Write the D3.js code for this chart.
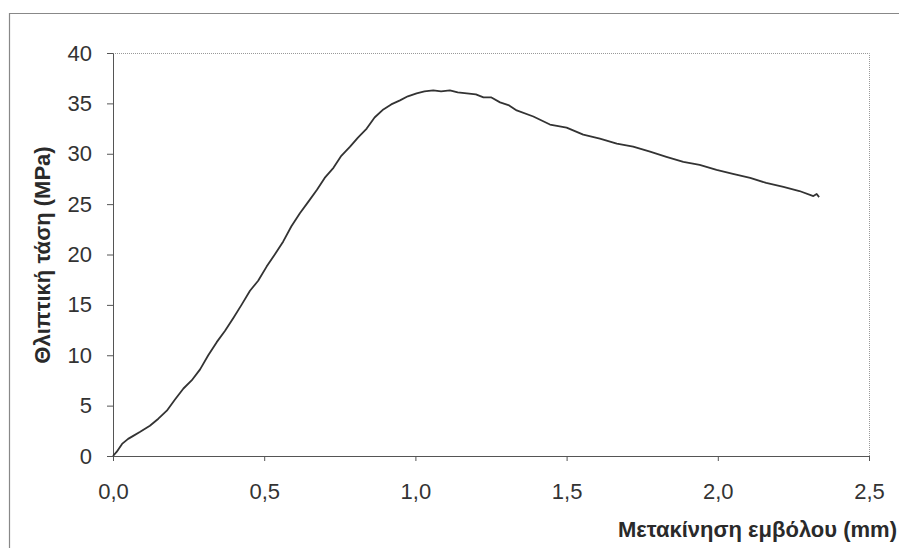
<!DOCTYPE html>
<html>
<head>
<meta charset="utf-8">
<script src="https://cdnjs.cloudflare.com/ajax/libs/d3/7.8.5/d3.min.js"></script>
<style>
  body { margin: 0; background: #fff; }
  svg { display: block; font-family: "Liberation Sans", Arial, sans-serif; }
  .axis path, .axis line { stroke: #555; }
  .axis text { fill: #333; font-size: 22px; }
  .title { fill: #2a2a2a; font-size: 22px; font-weight: bold; }
  .line { fill: none; stroke: #333; stroke-width: 1.8px; stroke-linejoin: round; }
</style>
</head>
<body>
<svg id="chart"></svg>
<script>
// displacement of the piston (mm)
var displacement = [0, 0.012, 0.03, 0.05, 0.067, 0.09, 0.122, 0.15, 0.178, 0.205,
  0.233, 0.26, 0.288, 0.315, 0.343, 0.37, 0.398, 0.425, 0.453, 0.48,
  0.508, 0.535, 0.563, 0.59, 0.618, 0.645, 0.674, 0.70, 0.729, 0.755,
  0.784, 0.81, 0.839, 0.865, 0.894, 0.92, 0.949, 0.975, 1.004, 1.03,
  1.059, 1.085, 1.114, 1.14, 1.17, 1.2, 1.225, 1.25, 1.28, 1.31,
  1.335, 1.39, 1.445, 1.5, 1.555, 1.61, 1.666, 1.72, 1.776, 1.83,
  1.886, 1.94, 1.996, 2.05, 2.107, 2.16, 2.217, 2.27, 2.316, 2.327, 2.335];

// compressive stress (MPa)
var stress = [0, 0.4, 1.2, 1.7, 2.0, 2.4, 3.0, 3.7, 4.5, 5.6,
  6.7, 7.5, 8.6, 10.0, 11.3, 12.4, 13.7, 15.0, 16.4, 17.4,
  18.8, 20.0, 21.3, 22.8, 24.1, 25.2, 26.4, 27.6, 28.6, 29.8,
  30.7, 31.6, 32.5, 33.6, 34.4, 34.9, 35.3, 35.7, 36.0, 36.2,
  36.3, 36.2, 36.3, 36.1, 36.0, 35.9, 35.6, 35.6, 35.1, 34.8,
  34.3, 33.7, 32.9, 32.6, 31.9, 31.5, 31.0, 30.7, 30.2, 29.7,
  29.2, 28.9, 28.4, 28.0, 27.6, 27.1, 26.7, 26.3, 25.8, 26.0, 25.7];

var xTicks = [0, 0.5, 1, 1.5, 2, 2.5];
var yTicks = [0, 5, 10, 15, 20, 25, 30, 35, 40];

var xTitle = "Μετακίνηση εμβόλου (mm)";
var yTitle = "Θλιπτική τάση (MPa)";

var data = displacement.map(function(d, i) {
  return {x: d, y: stress[i]};
});

//setup variables
var W = 899, H = 548,
    margin = {top: 53, right: 30, bottom: 92, left: 113},
    width = W - margin.left - margin.right,
    height = H - margin.top - margin.bottom,
    root = d3.select('#chart').attr("width", W).attr("height", H),
    x = d3.scaleLinear().domain([0, 2.5]).range([0, width]),
    y = d3.scaleLinear().domain([0, 40]).range([height, 0]),
    comma = function(d) { return d3.format(".1f")(d).replace(".", ","); };

// outer frame (top and left edges only)
root.append("path")
    .attr("d", "M9.5,548V13.5H899")
    .attr("fill", "none")
    .attr("stroke", "#888")
    .attr("stroke-width", 1.2);

var svg = root.append("g")
    .attr("transform", "translate(" + margin.left + "," + margin.top + ")");

// dotted plot area border on top and right
svg.append("path")
    .attr("d", "M0,0.5H" + (width + 0.5) + "V" + height)
    .attr("fill", "none")
    .attr("stroke", "#999")
    .attr("stroke-dasharray", "1,1");

// y axis
svg.append("g")
    .attr("class", "axis")
    .call(d3.axisLeft(y).tickValues(yTicks).tickSize(6).tickPadding(15).tickSizeOuter(0));

// x axis
svg.append("g")
    .attr("class", "axis")
    .attr("transform", "translate(0," + height + ")")
    .call(d3.axisBottom(x).tickValues(xTicks).tickFormat(comma).tickSize(5).tickPadding(22).tickSizeOuter(0));

// curve
svg.append("path")
    .datum(data)
    .attr("class", "line")
    .attr("d", d3.line()
        .x(function(d) { return x(d.x); })
        .y(function(d) { return y(d.y); }));

// axis titles
root.append("text")
    .attr("class", "title")
    .attr("x", 897)
    .attr("y", 537)
    .attr("text-anchor", "end")
    .text(xTitle);

root.append("text")
    .attr("class", "title")
    .attr("transform", "translate(50,255) rotate(-90)")
    .attr("text-anchor", "middle")
    .text(yTitle);
</script>
</body>
</html>
